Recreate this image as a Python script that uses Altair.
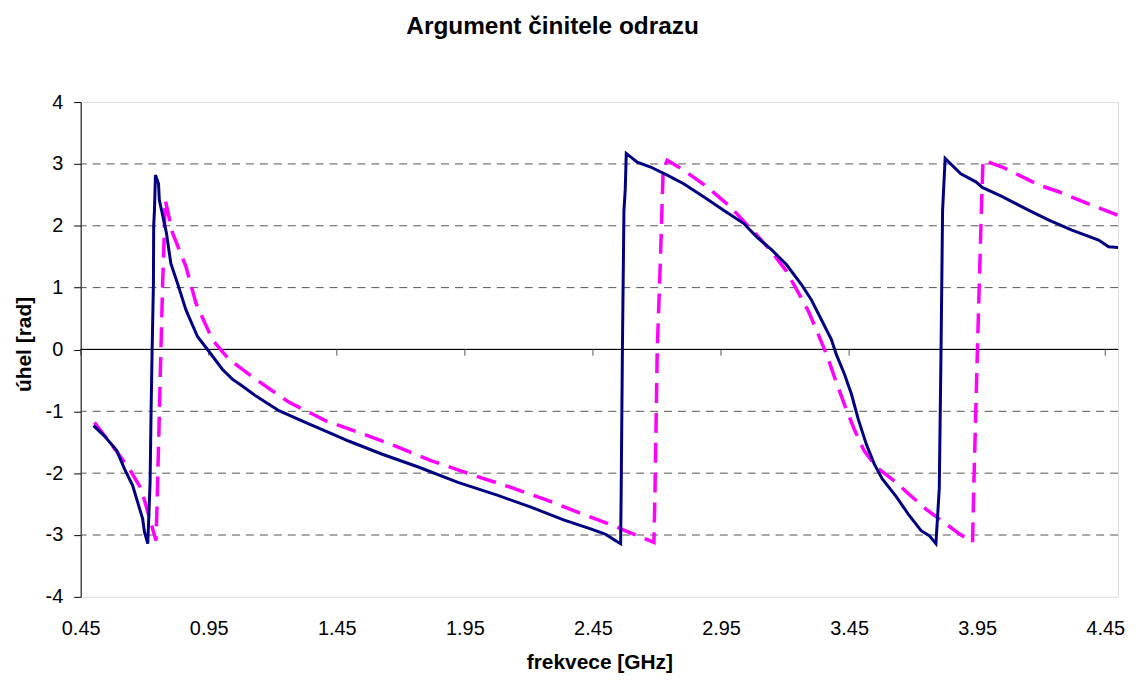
import altair as alt
import pandas as pd

# ---- data ----
title_text = ["Argument činitele odrazu"]

blue_f = [0.50, 0.543, 0.59, 0.621, 0.653, 0.692, 0.699, 0.712, 0.721, 0.725, 0.729, 0.734,
          0.735, 0.738, 0.742, 0.754, 0.757, 0.785, 0.802, 0.828, 0.861, 0.906, 0.945, 1.003,
          1.042, 1.081, 1.133, 1.224, 1.327, 1.418, 1.496, 1.625, 1.768, 1.923, 2.079, 2.208,
          2.338, 2.441, 2.50, 2.545, 2.558, 2.560, 2.565, 2.571, 2.576, 2.580, 2.623, 2.675,
          2.740, 2.804, 2.882, 2.960, 3.038, 3.089, 3.148, 3.206, 3.264, 3.303, 3.342, 3.381,
          3.40, 3.432, 3.459, 3.486, 3.517, 3.548, 3.579, 3.634, 3.684, 3.731, 3.763, 3.789,
          3.802, 3.809, 3.815, 3.825, 3.886, 3.945, 3.97, 4.048, 4.152, 4.23, 4.32, 4.424,
          4.463, 4.50]
blue_v = [-1.23, -1.40, -1.63, -1.93, -2.20, -2.74, -2.95, -3.14, -2.15, -0.97, 0.0, 1.07,
          1.99, 2.25, 2.82, 2.68, 2.42, 1.88, 1.39, 1.07, 0.64, 0.21, 0.0, -0.32,
          -0.48, -0.59, -0.75, -0.99, -1.18, -1.34, -1.48, -1.69, -1.90, -2.15, -2.36, -2.55,
          -2.76, -2.90, -2.99, -3.11, -3.14, -2.36, 0.0, 2.25, 2.58, 3.17, 3.03, 2.95,
          2.82, 2.68, 2.47, 2.25, 2.04, 1.82, 1.61, 1.37, 1.05, 0.80, 0.48, 0.16,
          -0.08, -0.40, -0.72, -1.13, -1.53, -1.85, -2.09, -2.38, -2.68, -2.93, -3.01, -3.14,
          -2.25, 0.0, 2.25, 3.09, 2.84, 2.71, 2.62, 2.47, 2.25, 2.09, 1.93, 1.77,
          1.66, 1.65]

mag_f = [0.504, 0.589, 0.640, 0.686, 0.744, 0.747, 0.757, 0.764, 0.770, 0.776, 0.780, 0.809,
         0.861, 0.900, 0.964, 1.029, 1.133, 1.262, 1.353, 1.405, 1.535, 1.677, 1.82, 1.988,
         2.13, 2.26, 2.39, 2.545, 2.558, 2.688, 2.692, 2.701, 2.713, 2.724, 2.74, 2.804,
         2.895, 2.986, 3.089, 3.148, 3.206, 3.245, 3.292, 3.33, 3.362, 3.393, 3.432, 3.47,
         3.509, 3.556, 3.634, 3.673, 3.75, 3.88, 3.932, 3.936, 3.951, 3.968, 3.973, 4.048,
         4.113, 4.19, 4.268, 4.346, 4.412, 4.50]
mag_v = [-1.18, -1.64, -1.93, -2.25, -3.09, -2.68, -1.07, 0.11, 1.07, 1.82, 2.42, 1.88,
         1.34, 0.75, 0.16, -0.16, -0.48, -0.85, -1.04, -1.15, -1.34, -1.56, -1.80, -2.04,
         -2.23, -2.42, -2.63, -2.87, -2.90, -3.12, -2.36, 0.0, 1.40, 2.90, 3.06, 2.90,
         2.63, 2.31, 1.85, 1.58, 1.26, 0.97, 0.61, 0.24, -0.08, -0.45, -0.89, -1.29,
         -1.64, -1.90, -2.15, -2.30, -2.58, -2.98, -3.12, -2.36, 0.0, 2.47, 3.06, 2.95,
         2.82, 2.66, 2.55, 2.42, 2.31, 2.17]

x_ticks = [0.45, 0.95, 1.45, 1.95, 2.45, 2.95, 3.45, 3.95, 4.45]
y_ticks = [-4, -3, -2, -1, 0, 1, 2, 3, 4]
grid_vals = [-3, -2, -1, 1, 2, 3]

FONT = "Liberation Sans"

blue_df = pd.DataFrame({"f": blue_f, "v": blue_v, "i": range(len(blue_f))})
mag_df = pd.DataFrame({"f": mag_f, "v": mag_v, "i": range(len(mag_f))})
grid_df = pd.DataFrame({"g": grid_vals})
tick_df = pd.DataFrame({"t": x_ticks})
title_df = pd.DataFrame({"t": title_text})

x_scale = alt.Scale(domain=[0.45, 4.5], nice=False, zero=False)
y_scale = alt.Scale(domain=[-4, 4], nice=False, zero=False)

x_axis = alt.Axis(values=x_ticks, format=".2f", labelFontSize=20, labelFont=FONT,
                  labelColor="black", labelFlush=False, labelOverlap=False,
                  domain=False, ticks=False, grid=False, labelPadding=22,
                  title="frekvece [GHz]", titleFont=FONT, titleFontSize=21,
                  titleFontWeight="bold", titleColor="black", titleY=66,
                  titleBaseline="middle")
y_axis = alt.Axis(values=y_ticks, labelExpr="'' + datum.value", labelFontSize=20,
                  labelFont=FONT, labelColor="black", labelFlush=False, domain=True,
                  domainColor="black", domainWidth=1, ticks=True, tickColor="black",
                  tickSize=7, labelPadding=11, grid=False, title="úhel [rad]",
                  titleFont=FONT, titleFontSize=21, titleFontWeight="bold",
                  titleColor="black", titleX=-56, titleY=243, titleAngle=270,
                  titleAlign="center", titleBaseline="middle")

grid = alt.Chart(grid_df).mark_rule(color="#555555", strokeDash=[8, 6], strokeWidth=1).encode(
    y=alt.Y("g:Q", scale=y_scale, axis=y_axis)
)
zero = alt.Chart(grid_df).mark_rule(color="black", strokeWidth=1).encode(
    y=alt.datum(0, scale=y_scale)
)
zticks = alt.Chart(tick_df).mark_rule(color="#555555", strokeWidth=1).encode(
    x=alt.X("t:Q", scale=x_scale, axis=x_axis),
    y=alt.datum(0),
    y2=alt.datum(-0.1),
)
mag = alt.Chart(mag_df).mark_line(color="#FF00FF", strokeWidth=3.5, strokeDash=[20, 10],
                                  clip=True).encode(
    x=alt.X("f:Q", scale=x_scale, axis=x_axis),
    y=alt.Y("v:Q", scale=y_scale, axis=y_axis),
    order="i:Q",
)
blue = alt.Chart(blue_df).mark_line(color="#000080", strokeWidth=3, clip=True).encode(
    x=alt.X("f:Q", scale=x_scale, axis=x_axis),
    y=alt.Y("v:Q", scale=y_scale, axis=y_axis),
    order="i:Q",
)
title = alt.Chart(title_df).mark_text(font=FONT, fontSize=24.5, fontWeight="bold",
                                      color="black", align="center",
                                      baseline="alphabetic").encode(
    text="t:N",
    x=alt.value(474),
    y=alt.value(-68),
)

chart = alt.layer(grid, zero, zticks, mag, blue, title).properties(
    width=1042,
    height=497,
    autosize=alt.AutoSizeParams(type="none"),
    padding={"left": 73, "top": 93, "right": 10, "bottom": 80},
).configure_view(stroke="#888888", strokeWidth=1.5).configure(background="white")

chart.save("out.html", embed_options={"renderer": "svg", "actions": False})
